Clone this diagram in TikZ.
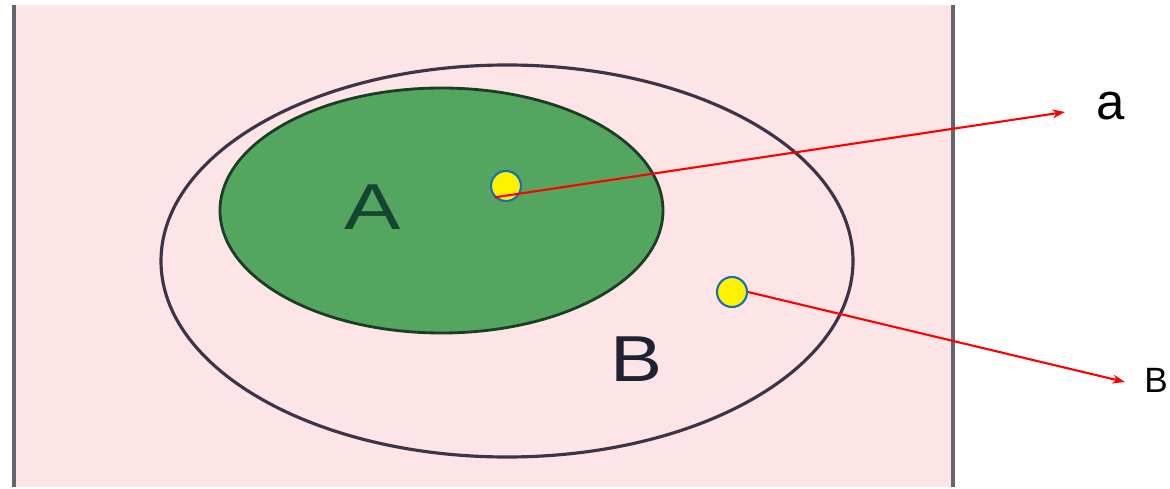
\documentclass[tikz,border=0pt]{standalone}
\usepackage{fontspec}
\usepackage{graphicx}
\setmainfont{Liberation Sans}
\usetikzlibrary{arrows.meta}
\definecolor{cPink}{RGB}{253,228,231}
\definecolor{cFrame}{RGB}{100,100,110}
\definecolor{cSetB}{RGB}{62,52,72}
\definecolor{cSetA}{RGB}{84,165,96}
\definecolor{cSetAline}{RGB}{28,62,38}
\definecolor{cDotline}{RGB}{20,112,190}
\definecolor{cTextA}{RGB}{22,70,50}
\definecolor{cTextB}{RGB}{30,34,50}

\tikzset{
  dot/.style={circle,fill=yellow,draw=cDotline,line width=1.2pt,minimum size=0.6cm,inner sep=0pt},
  pointer/.style={red,line width=1.2pt,-{Stealth[length=7pt,width=5pt,inset=2pt]}},
}

\begin{document}
\begin{tikzpicture}[x=0.02cm,y=-0.02cm]
\useasboundingbox (0,0) rectangle (1170,489);
\fill[cPink] (14,5) rectangle (953,487);
\draw[cFrame,line width=2pt] (14,5) -- (14,487);
\draw[cFrame,line width=2pt] (953,5) -- (953,487);
\draw[cSetB,line width=1.8pt] (507,261) ellipse [x radius=346, y radius=196];
\draw[cSetAline,fill=cSetA,line width=1.6pt] (441.5,210.5) ellipse [x radius=221.5, y radius=122.5];
\node[inner sep=0pt,font=\fontsize{37}{37}\selectfont,text=cTextA] (lA) at (373,207) {\scalebox{1.3}[1]{A}};
\node[inner sep=0pt,font=\fontsize{37}{37}\selectfont,text=cTextB] (lB) at (637,359) {\scalebox{1.2}[1]{B}};
\node[dot] (p1) at (506,186) {};
\node[dot] (p2) at (732,292) {};
\coordinate (tipa) at (1065,112);
\coordinate (tipb) at (1125,382);
\node[inner sep=0pt,font=\fontsize{29}{29}\selectfont] (na) at (1111,106) {a};
\node[inner sep=0pt,font=\fontsize{20}{20}\selectfont] (nb) at (1156,380) {B};
\draw[pointer] (p1.225) -- (tipa);
\draw[pointer] (p2.east) -- (tipb);
\end{tikzpicture}
\end{document}
